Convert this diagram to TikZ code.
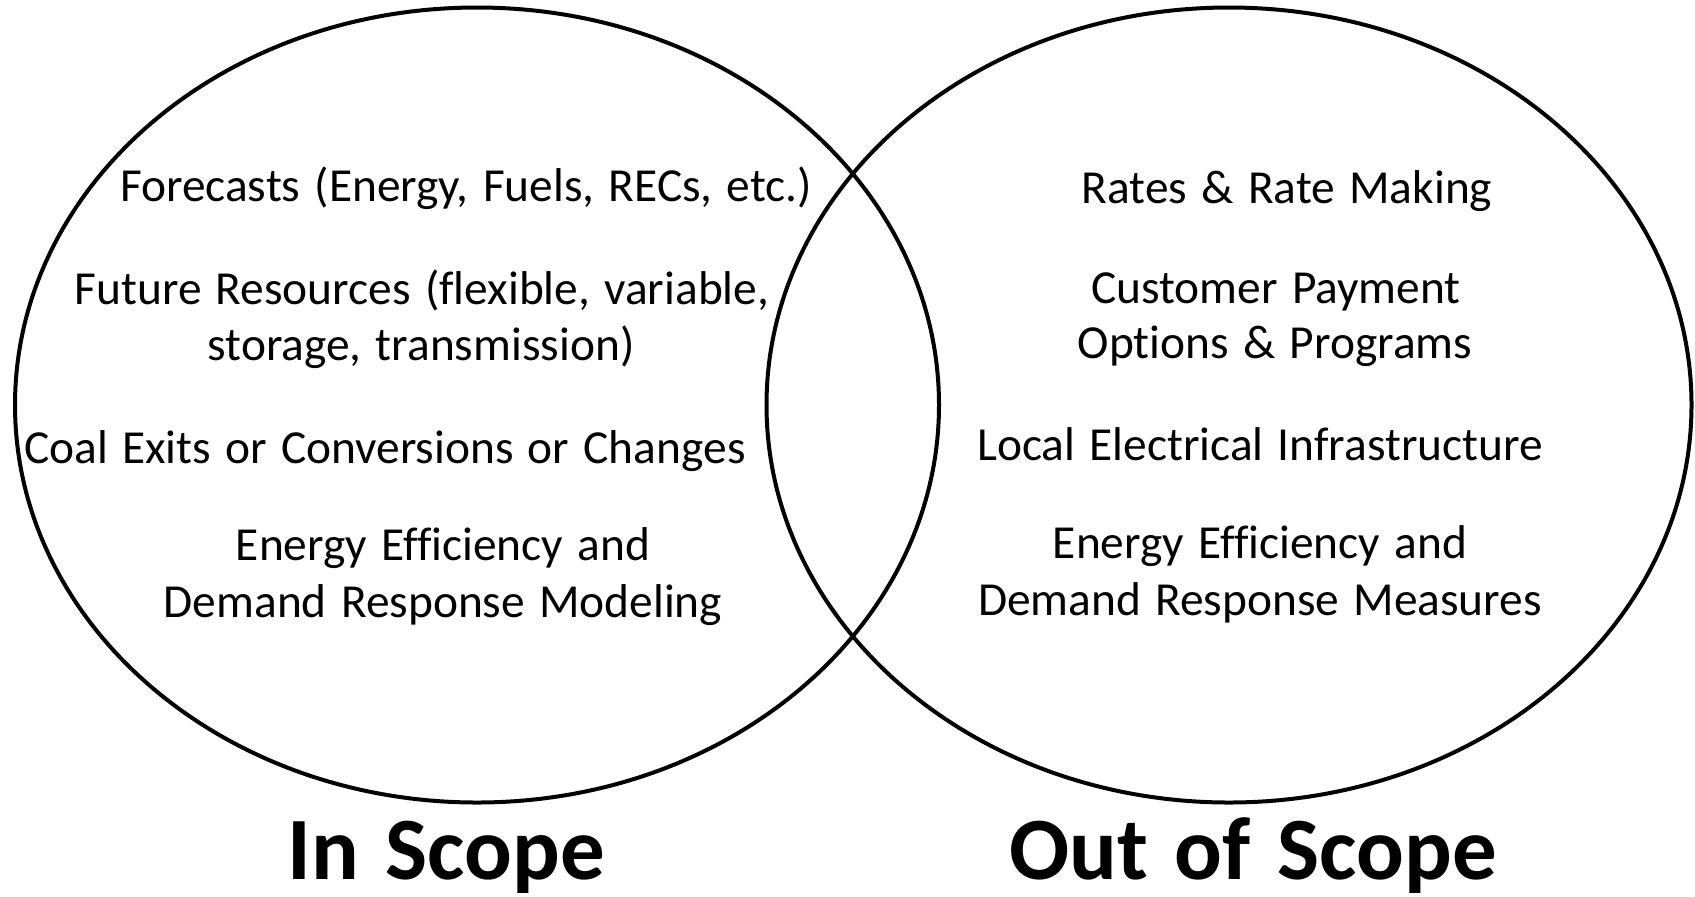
\documentclass[tikz,border=0pt]{standalone}
\usepackage{fontspec}
\setmainfont{Carlito}[Ligatures={NoCommon},WordSpace={1.33}]
\begin{document}
\begin{tikzpicture}[x=0.5pt,y=-0.5pt,
  ring/.style={draw=black,line width=2pt},
  txt/.style={inner sep=0pt,anchor=base,font=\fontsize{23.7pt}{28pt}\selectfont},
  ttl/.style={inner sep=0pt,anchor=base,font=\fontsize{44.5pt}{53pt}\selectfont\bfseries}]
\useasboundingbox (0,0) rectangle (1695,896);
\fill[white] (0,0) rectangle (1695,896);
% circles
\draw[ring] (477,405) ellipse [x radius=462, y radius=397.5];
\draw[ring] (1229,405) ellipse [x radius=462.5, y radius=397.5];
% in scope
\node[txt] (fc) at (466,201.7) {Forecasts (Energy, Fuels, RECs, etc.)};
\node[txt] (fr1) at (422,304) {Future Resources (flexible, variable,};
\node[txt] (fr2) at (421,360) {storage, transmission)};
\node[txt] (ce) at (385,463) {Coal Exits or Conversions or Changes};
\node[txt] (ee1) at (443,560) {Energy Efficiency and};
\node[txt] (ee2) at (443,617) {Demand Response Modeling};
% out of scope
\node[txt] (rr) at (1287,203) {Rates \& Rate Making};
\node[txt] (cp1) at (1276,303) {Customer Payment};
\node[txt] (cp2) at (1275,358) {Options \& Programs};
\node[txt] (le) at (1260,460) {Local Electrical Infrastructure};
\node[txt] (em1) at (1260,558) {Energy Efficiency and};
\node[txt] (em2) at (1260,615) {Demand Response Measures};
% titles
\node[ttl] (ins) at (446,879) {In Scope};
\node[ttl] (outs) at (1253,879) {Out of Scope};
\end{tikzpicture}
\end{document}
